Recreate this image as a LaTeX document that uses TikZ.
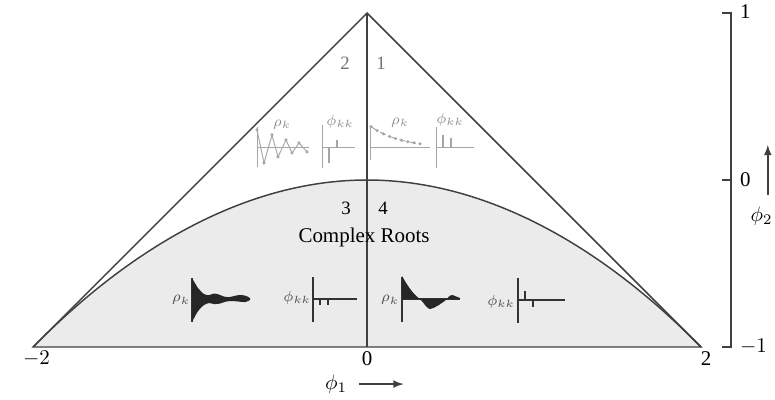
\documentclass[tikz,border=0pt]{standalone}
\usepackage{fontspec}
\setmainfont{Liberation Serif}
\begin{document}
\begin{tikzpicture}[x=2.8cm,y=2.8cm,
  edge/.style={line width=0.7pt,black!75},
  faint/.style={line width=0.45pt,black!35},
  dark/.style={line width=0.6pt,black!80},
  bar/.style={line width=0.9pt},
  lab/.style={font=\fontsize{10}{12}\selectfont},
  tiny/.style={font=\scriptsize,inner sep=0pt},
  plotbox/.style={x=0.16766mm,y=0.16766mm}]
  \useasboundingbox (-2.198,-1.317) rectangle (2.443,1.078);

  %shaded region
  \fill[black!8] (-2,-1) parabola bend (0,0) (2,-1) -- cycle;
  \draw[edge] (-2,-1) parabola bend (0,0) (2,-1);

  %triangle
  \draw[edge] (-2,-1) -- (0,1) -- (2,-1) -- cycle;
  \draw[edge] (0,1) -- (0,-1);

  %phi2 scale
  \draw[edge] (2.125,1) -- (2.18,1) -- (2.18,-1) -- (2.125,-1);
  \draw[edge] (2.125,0) -- (2.18,0);
  \node[lab,anchor=west] (ytop) at (2.19,1.01) {1};
  \node[lab,anchor=west] (ymid) at (2.19,0) {0};
  \node[lab,anchor=west] (ybot) at (2.19,-1) {$-1$};
  \node[lab,anchor=east,inner sep=1pt] (phitwo) at (2.443,-0.215) {$\phi_2$};
  \coordinate (uptail) at (2.40,-0.09);
  \draw[edge,-latex] (uptail) -- ++(0,0.3);

  %phi1 labels
  \node[lab] (xleft) at (-1.98,-1.07) {$-2$};
  \node[lab] (xmid) at (0,-1.07) {0};
  \node[lab] (xright) at (2.03,-1.07) {2};
  \node[lab] (phione) at (-0.186,-1.222) {$\phi_1$};
  \draw[edge,-latex] ([xshift=2pt]phione.east) -- ++(0.27,0);

  %regions
  \node[font=\small,black!55] (rtwo) at (-0.132,0.70) {2};
  \node[font=\small,black!55] (rone) at (0.084,0.70) {1};
  \node[font=\small] (rthree) at (-0.126,-0.168) {3};
  \node[font=\small] (rfour) at (0.096,-0.168) {4};
  \node[lab] (cplx) at (-0.018,-0.347) {Complex Roots};

  %region 2
  \begin{scope}[shift={(-0.659,0.192)},plotbox]
    \draw[faint] (0,21) -- (0,-19) (0,0) -- (52,0);
    \draw[faint] plot[mark=*,mark size=0.5pt] coordinates {(0,18) (7,-15) (15,13) (21,-9) (29,8) (35,-5) (42,5) (50,-4)};
    \node[tiny,black!45] (rhotwo) at (25,23) {$\rho_k$};
  \end{scope}
  \begin{scope}[shift={(-0.269,0.192)},plotbox]
    \draw[faint] (0,23) -- (0,-20) (0,0) -- (33,0);
    \draw[faint,bar] (7,0) -- (7,-15) (15,0) -- (15,8);
    \node[tiny,black!45] (phitwokk) at (18,26) {$\phi_{kk}$};
  \end{scope}

  %region 1
  \begin{scope}[shift={(0.018,0.192)},plotbox]
    \draw[faint] (0,22) -- (0,-12) (0,0) -- (60,0);
    \draw[faint,densely dashed] plot[domain=1:50,samples=9,mark=*,mark size=0.5pt,mark options={solid}] (\x,{22*exp(-\x/30)});
    \node[tiny,black!45] (rhoone) at (30,25) {$\rho_k$};
  \end{scope}
  \begin{scope}[shift={(0.413,0.192)},plotbox]
    \draw[faint] (0,21) -- (0,-20) (0,0) -- (38,0);
    \draw[faint,bar] (7,0) -- (7,13) (15,0) -- (15,10);
    \node[tiny,black!45] (phionekk) at (14,28) {$\phi_{kk}$};
  \end{scope}

  %region 3
  \begin{scope}[shift={(-1.048,-0.713)},plotbox]
    \draw[dark] (0,21) -- (0,-23);
    \fill[black!85] plot[smooth] coordinates {(0,21) (6,11) (12,5) (17,4) (22,5.5) (27,4.5) (32,2.5) (37,2) (42,3) (47,4) (53,3.5) (58,1) (58,-1) (53,-3) (47,-2.5) (40,-2) (34,-2.5) (28,-4.5) (22,-5) (17,-4) (12,-6) (6,-12) (0,-23)} -- cycle;
    \node[tiny,black!70] (rhothree) at (-11,-1) {$\rho_k$};
  \end{scope}
  \begin{scope}[shift={(-0.323,-0.713)},plotbox]
    \draw[dark] (0,22) -- (0,-23) (0,0) -- (44,0);
    \draw[dark,bar] (7,0) -- (7,-6) (15,0) -- (15,-6);
    \node[tiny,black!70] (phithreekk) at (-16,1) {$\phi_{kk}$};
  \end{scope}

  %region 4
  \begin{scope}[shift={(0.210,-0.713)},plotbox]
    \draw[dark] (0,22) -- (0,-23) (0,0) -- (58,0);
    \fill[black!85] (0,0) -- (0,23) .. controls (6,12) and (12,4) .. (18,0)
      .. controls (22,-4) and (25,-10) .. (28,-10)
      .. controls (33,-9) and (40,-4) .. (45,0)
      .. controls (47,4) and (50,5) .. (53,3) -- (58,1) -- (58,0) -- cycle;
    \node[tiny,black!70] (rhofour) at (-12,-1) {$\rho_k$};
  \end{scope}
  \begin{scope}[shift={(0.904,-0.719)},plotbox]
    \draw[dark] (0,22) -- (0,-23) (0,0) -- (47,0);
    \draw[dark,bar] (7,0) -- (7,9) (15,0) -- (15,-7);
    \node[tiny,black!70] (phifourkk) at (-17,-2) {$\phi_{kk}$};
  \end{scope}
\end{tikzpicture}
\end{document}
